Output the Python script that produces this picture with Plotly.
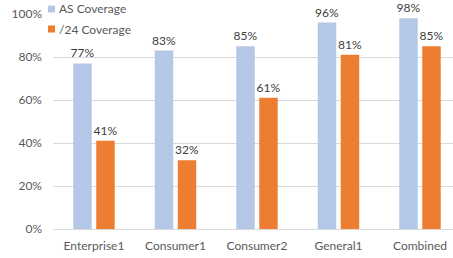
import plotly.graph_objects as go

categories = ["Enterprise1", "Consumer1", "Consumer2", "General1", "Combined"]
as_coverage = [0.77, 0.83, 0.85, 0.96, 0.98]
s24_coverage = [0.41, 0.32, 0.61, 0.81, 0.85]
series_names = ["AS Coverage", "/24 Coverage"]
y_ticks = [0, 0.2, 0.4, 0.6, 0.8, 1.0]
y_tick_labels = ["0%", "20%", "40%", "60%", "80%", "100%"]

BLUE = "#B4C7E7"
ORANGE = "#ED7D31"
FONT = "Lato, Liberation Sans, Arial, sans-serif"

W, H = 453, 258
L, R, T, B = 53, 0, 14, 29
pw, ph = W - L - R, H - T - B

def px_x(x):
    return (x - L) / pw

def px_y(y):
    return (H - B - y) / ph

fig = go.Figure()
for name, vals, col in [(series_names[0], as_coverage, BLUE), (series_names[1], s24_coverage, ORANGE)]:
    fig.add_trace(go.Bar(
        x=list(range(len(categories))), y=vals, name=name,
        marker=dict(color=col, line=dict(width=0)),
        text=[f"{round(v*100)}%" for v in vals],
        textposition="outside", cliponaxis=False, constraintext="none",
        textfont=dict(family=FONT, size=12, color="#404040"),
        showlegend=False,
    ))

# manual legend
legend_items = [(series_names[0], BLUE, 9), (series_names[1], ORANGE, 29)]
shapes = [dict(type="rect", xref="paper", yref="paper",
               x0=px_x(44), x1=px_x(133), y0=px_y(40), y1=px_y(0),
               fillcolor="white", line=dict(width=0), layer="above")]
annotations = []
for name, col, cy in legend_items:
    shapes.append(dict(type="rect", xref="paper", yref="paper",
                       x0=px_x(48), x1=px_x(55), y0=px_y(cy + 3.5), y1=px_y(cy - 3.5),
                       fillcolor=col, line=dict(width=0), layer="above"))
    annotations.append(dict(text=name, xref="paper", yref="paper", x=px_x(57), y=px_y(cy),
                            xanchor="left", yanchor="middle", showarrow=False,
                            font=dict(family=FONT, size=12, color="#595959")))

fig.update_layout(
    width=W, height=H,
    margin=dict(l=L, r=R, t=T, b=B, pad=0),
    paper_bgcolor="white", plot_bgcolor="white",
    barmode="group", bargap=0.436, bargroupgap=0.196,
    shapes=shapes, annotations=annotations,
    xaxis=dict(
        range=[-0.503, 4.405],
        tickmode="array", tickvals=list(range(len(categories))), ticktext=categories,
        tickfont=dict(family=FONT, size=12, color="#595959"),
        showgrid=False, showline=True, linecolor="#D9D9D9", linewidth=1,
        ticks="", ticklabelstandoff=6, zeroline=False,
    ),
    yaxis=dict(
        range=[0, 1.0],
        tickmode="array", tickvals=y_ticks, ticktext=y_tick_labels,
        tickfont=dict(family=FONT, size=12, color="#595959"),
        showgrid=True, gridcolor="#D9D9D9", gridwidth=1,
        zeroline=False, showline=False, ticks="", ticklabelstandoff=10,
    ),
)

fig.write_html(
    "out.html",
    config={"displayModeBar": False},
    post_script="document.body.style.margin='0';document.body.style.overflow='hidden';",
)
